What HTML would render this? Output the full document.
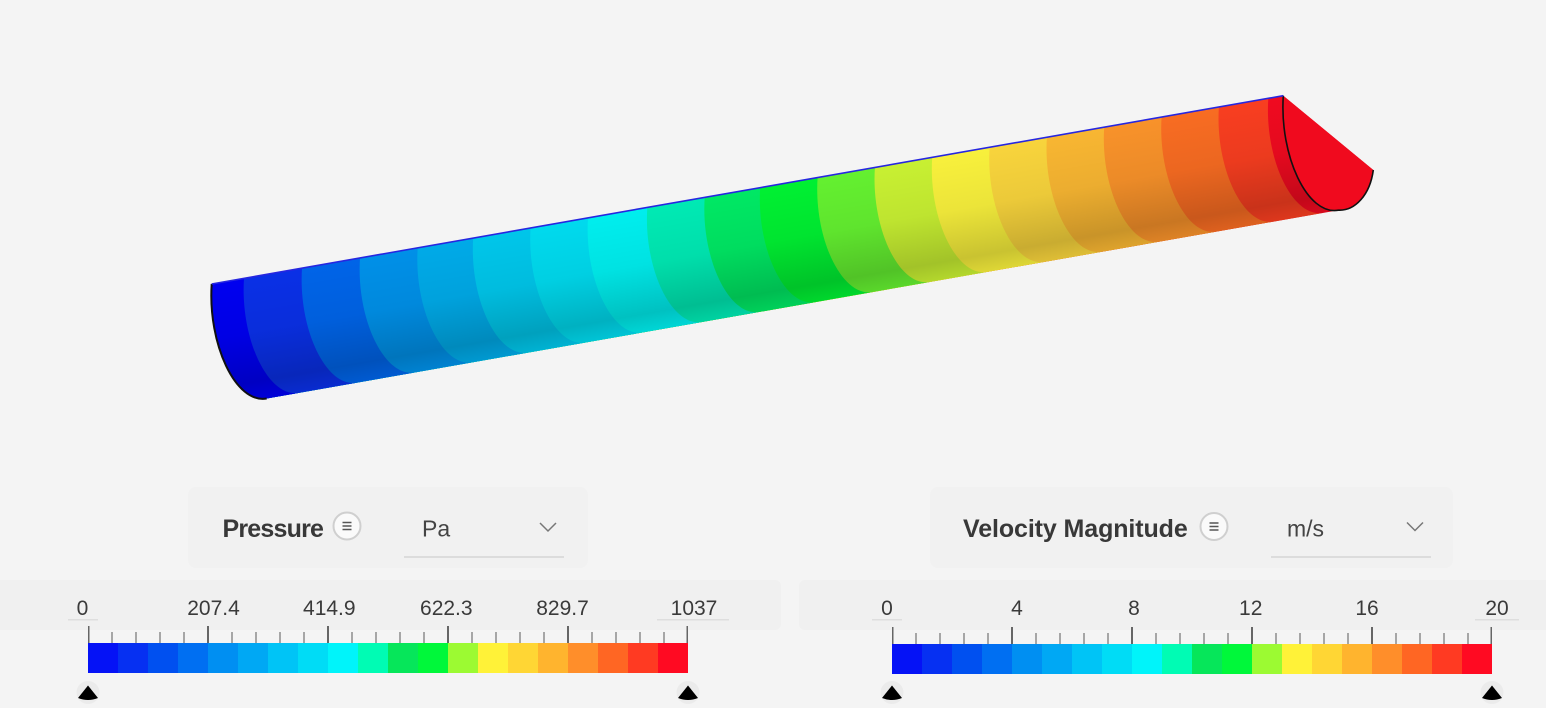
<!DOCTYPE html>
<html><head><meta charset="utf-8"><style>
html,body{margin:0;padding:0;background:#f4f4f4;}
body{width:1546px;height:708px;overflow:hidden;}
svg{display:block;}
.t{font-family:"Liberation Sans",sans-serif;}
</style></head><body>
<svg width="1546" height="708" viewBox="0 0 1546 708" xmlns="http://www.w3.org/2000/svg">
<defs>
<linearGradient id="sh" gradientUnits="userSpaceOnUse" x1="750" y1="189.4" x2="771.1" y2="310.6">
<stop offset="0" stop-color="#000" stop-opacity="0"/>
<stop offset="0.45" stop-color="#000" stop-opacity="0.05"/>
<stop offset="0.85" stop-color="#000" stop-opacity="0.19"/>
<stop offset="1" stop-color="#000" stop-opacity="0.1"/>
</linearGradient>
</defs>
<rect width="1546" height="708" fill="#f4f4f4"/>

<!-- tube -->
<path d="M211.7 284 c-4 60 24 120 55 114.5 L1338.3 210.2 C1355 211 1370 195 1373.3 170 L1283.3 95.7 Z" fill="#f00a20"/>
<g>
<path d="M211.7 284 c-4 60 24 120 55 114.5 L1323.3 212.83 c-31 5.5 -59 -54.5 -55 -114.5 Z" fill="#f83e20"/>
<path d="M211.7 284 c-4 60 24 120 55 114.5 L1273.9 221.51 c-31 5.5 -59 -54.5 -55 -114.5 Z" fill="#f86c22"/>
<path d="M211.7 284 c-4 60 24 120 55 114.5 L1216.6 231.58 c-31 5.5 -59 -54.5 -55 -114.5 Z" fill="#f8922a"/>
<path d="M211.7 284 c-4 60 24 120 55 114.5 L1159.2 241.67 c-31 5.5 -59 -54.5 -55 -114.5 Z" fill="#f8b632"/>
<path d="M211.7 284 c-4 60 24 120 55 114.5 L1101.9 251.74 c-31 5.5 -59 -54.5 -55 -114.5 Z" fill="#f8d43c"/>
<path d="M211.7 284 c-4 60 24 120 55 114.5 L1044.6 261.81 c-31 5.5 -59 -54.5 -55 -114.5 Z" fill="#f8f03c"/>
<path d="M211.7 284 c-4 60 24 120 55 114.5 L987.2 271.89 c-31 5.5 -59 -54.5 -55 -114.5 Z" fill="#c8f032"/>
<path d="M211.7 284 c-4 60 24 120 55 114.5 L929.9 281.96 c-31 5.5 -59 -54.5 -55 -114.5 Z" fill="#64f030"/>
<path d="M211.7 284 c-4 60 24 120 55 114.5 L872.6 292.03 c-31 5.5 -59 -54.5 -55 -114.5 Z" fill="#00f032"/>
<path d="M211.7 284 c-4 60 24 120 55 114.5 L815.2 302.12 c-31 5.5 -59 -54.5 -55 -114.5 Z" fill="#00e864"/>
<path d="M211.7 284 c-4 60 24 120 55 114.5 L759.7 311.87 c-31 5.5 -59 -54.5 -55 -114.5 Z" fill="#00eab4"/>
<path d="M211.7 284 c-4 60 24 120 55 114.5 L702.3 321.96 c-31 5.5 -59 -54.5 -55 -114.5 Z" fill="#00eeee"/>
<path d="M211.7 284 c-4 60 24 120 55 114.5 L643 332.38 c-31 5.5 -59 -54.5 -55 -114.5 Z" fill="#00daee"/>
<path d="M211.7 284 c-4 60 24 120 55 114.5 L585.6 342.46 c-31 5.5 -59 -54.5 -55 -114.5 Z" fill="#00c6ea"/>
<path d="M211.7 284 c-4 60 24 120 55 114.5 L528.2 352.55 c-31 5.5 -59 -54.5 -55 -114.5 Z" fill="#00aae8"/>
<path d="M211.7 284 c-4 60 24 120 55 114.5 L472.7 362.3 c-31 5.5 -59 -54.5 -55 -114.5 Z" fill="#0090e8"/>
<path d="M211.7 284 c-4 60 24 120 55 114.5 L415 372.44 c-31 5.5 -59 -54.5 -55 -114.5 Z" fill="#0064e8"/>
<path d="M211.7 284 c-4 60 24 120 55 114.5 L357 382.63 c-31 5.5 -59 -54.5 -55 -114.5 Z" fill="#0a30e6"/>
<path d="M211.7 284 c-4 60 24 120 55 114.5 L299 392.82 c-31 5.5 -59 -54.5 -55 -114.5 Z" fill="#0000f0"/>
</g>
<path d="M211.7 284 c-4 60 24 120 55 114.5 L1338.3 210.2 C1355 211 1370 195 1373.3 170 L1283.3 95.7 Z" fill="url(#sh)"/>
<path d="M1283.3 95.7 L1373.3 170 C1370 195 1355 211 1338.3 210.2 c-31 5.5 -59 -54.5 -55 -114.5 Z" fill="#f00a1e"/>
<path d="M1283.3 95.7 c-4 60 24 120 55 114.5 C1355 211 1370 195 1373.3 170" fill="none" stroke="#111" stroke-width="1.6"/>
<path d="M211.7 284 c-4 60 24 120 55 114.5" fill="none" stroke="#111" stroke-width="2"/>
<path d="M211.7 284 L1283.3 95.7" fill="none" stroke="#2626e0" stroke-width="1.6"/>

<!-- header panels -->
<rect x="188" y="487" width="400" height="81" rx="8" fill="#f1f1f1"/>
<rect x="930" y="487" width="523" height="81" rx="8" fill="#f1f1f1"/>
<text class="t" x="222.5" y="537" font-size="25" font-weight="bold" letter-spacing="-0.8" fill="#383838">Pressure</text>
<circle cx="347" cy="526" r="13.5" fill="#fafafa" stroke="#cfcfcf" stroke-width="2"/>
<path d="M342.5 522.5h9M342.5 526h9M342.5 529.5h9" stroke="#555" stroke-width="1.6"/>
<text class="t" x="422" y="536.5" font-size="23" fill="#444">Pa</text>
<polyline points="540,523 548,531 556,523" fill="none" stroke="#777" stroke-width="1.5"/>
<rect x="404" y="556" width="160" height="2" fill="#dcdcdc"/>

<text class="t" x="963" y="537" font-size="25" font-weight="bold" letter-spacing="-0.1" fill="#383838">Velocity Magnitude</text>
<circle cx="1214" cy="526.5" r="13.5" fill="#fafafa" stroke="#cfcfcf" stroke-width="2"/>
<path d="M1209.5 523h9M1209.5 526.5h9M1209.5 530h9" stroke="#555" stroke-width="1.6"/>
<text class="t" x="1287" y="536.5" font-size="23" fill="#444">m/s</text>
<polyline points="1407,522.5 1415,530.5 1423,522.5" fill="none" stroke="#777" stroke-width="1.5"/>
<rect x="1271" y="556" width="160" height="2" fill="#dcdcdc"/>

<!-- colorbar strips -->
<rect x="-10" y="580" width="791" height="50" rx="6" fill="#f0f0f0"/>
<rect x="799" y="580" width="760" height="50" rx="6" fill="#f0f0f0"/>

<g class="t" font-size="21" fill="#3a3a3a" text-anchor="middle">
<text x="82.5" y="615">0</text>
<text x="213.5" y="615">207.4</text>
<text x="329.3" y="615">414.9</text>
<text x="446.3" y="615">622.3</text>
<text x="562.5" y="615">829.7</text>
<text x="694" y="615">1037</text>
<text x="887" y="615">0</text>
<text x="1017" y="615">4</text>
<text x="1134" y="615">8</text>
<text x="1250.7" y="615">12</text>
<text x="1367" y="615">16</text>
<text x="1497" y="615">20</text>
</g>
<rect x="68" y="619" width="30" height="1.5" fill="#dedede"/>
<rect x="657" y="619" width="72" height="1.5" fill="#dedede"/>
<rect x="872" y="619" width="30" height="1.5" fill="#dedede"/>
<rect x="1475" y="619" width="44" height="1.5" fill="#dedede"/>

<g id="cbL">
<rect x="88" y="643" width="30" height="30" fill="#0512f6"/>
<rect x="118" y="643" width="30" height="30" fill="#0630f2"/>
<rect x="148" y="643" width="30" height="30" fill="#0050f0"/>
<rect x="178" y="643" width="30" height="30" fill="#006ff2"/>
<rect x="208" y="643" width="30" height="30" fill="#008ff2"/>
<rect x="238" y="643" width="30" height="30" fill="#00a8f4"/>
<rect x="268" y="643" width="30" height="30" fill="#00c4f6"/>
<rect x="298" y="643" width="30" height="30" fill="#00dcf6"/>
<rect x="328" y="643" width="30" height="30" fill="#00f4fa"/>
<rect x="358" y="643" width="30" height="30" fill="#00fcb4"/>
<rect x="388" y="643" width="30" height="30" fill="#06e65a"/>
<rect x="418" y="643" width="30" height="30" fill="#00f83a"/>
<rect x="448" y="643" width="30" height="30" fill="#9cfa32"/>
<rect x="478" y="643" width="30" height="30" fill="#fff238"/>
<rect x="508" y="643" width="30" height="30" fill="#ffd634"/>
<rect x="538" y="643" width="30" height="30" fill="#ffb42e"/>
<rect x="568" y="643" width="30" height="30" fill="#ff8e2a"/>
<rect x="598" y="643" width="30" height="30" fill="#ff6623"/>
<rect x="628" y="643" width="30" height="30" fill="#ff3a22"/>
<rect x="658" y="643" width="30" height="30" fill="#ff0a22"/>
<g fill="#a6a6a6">
<rect x="111" y="632" width="2" height="11"/><rect x="135" y="632" width="2" height="11"/><rect x="159" y="632" width="2" height="11"/><rect x="183" y="632" width="2" height="11"/>
<rect x="231" y="632" width="2" height="11"/><rect x="255" y="632" width="2" height="11"/><rect x="279" y="632" width="2" height="11"/><rect x="303" y="632" width="2" height="11"/>
<rect x="351" y="632" width="2" height="11"/><rect x="375" y="632" width="2" height="11"/><rect x="399" y="632" width="2" height="11"/><rect x="423" y="632" width="2" height="11"/>
<rect x="471" y="632" width="2" height="11"/><rect x="495" y="632" width="2" height="11"/><rect x="519" y="632" width="2" height="11"/><rect x="543" y="632" width="2" height="11"/>
<rect x="591" y="632" width="2" height="11"/><rect x="615" y="632" width="2" height="11"/><rect x="639" y="632" width="2" height="11"/><rect x="663" y="632" width="2" height="11"/>
</g>
<g fill="#666">
<rect x="88" y="626" width="1.5" height="17"/><rect x="207" y="626" width="2" height="17"/><rect x="327" y="626" width="2" height="17"/><rect x="447" y="626" width="2" height="17"/><rect x="567" y="626" width="2" height="17"/><rect x="686.5" y="626" width="1.5" height="17"/>
</g>
</g>
<use href="#cbL" transform="translate(804,1)"/>

<g>
<circle cx="88" cy="692.5" r="11.5" fill="#ebebeb"/>
<path d="M88 685.5 L98 698 Q88 702 78 698 Z" fill="#000"/>
<circle cx="688" cy="692.5" r="11.5" fill="#ebebeb"/>
<path d="M688 685.5 L698 698 Q688 702 678 698 Z" fill="#000"/>
<circle cx="892" cy="692.5" r="11.5" fill="#ebebeb"/>
<path d="M892 685.5 L902 698 Q892 702 882 698 Z" fill="#000"/>
<circle cx="1492" cy="692.5" r="11.5" fill="#ebebeb"/>
<path d="M1492 685.5 L1502 698 Q1492 702 1482 698 Z" fill="#000"/>
</g>
</svg>
</body></html>
